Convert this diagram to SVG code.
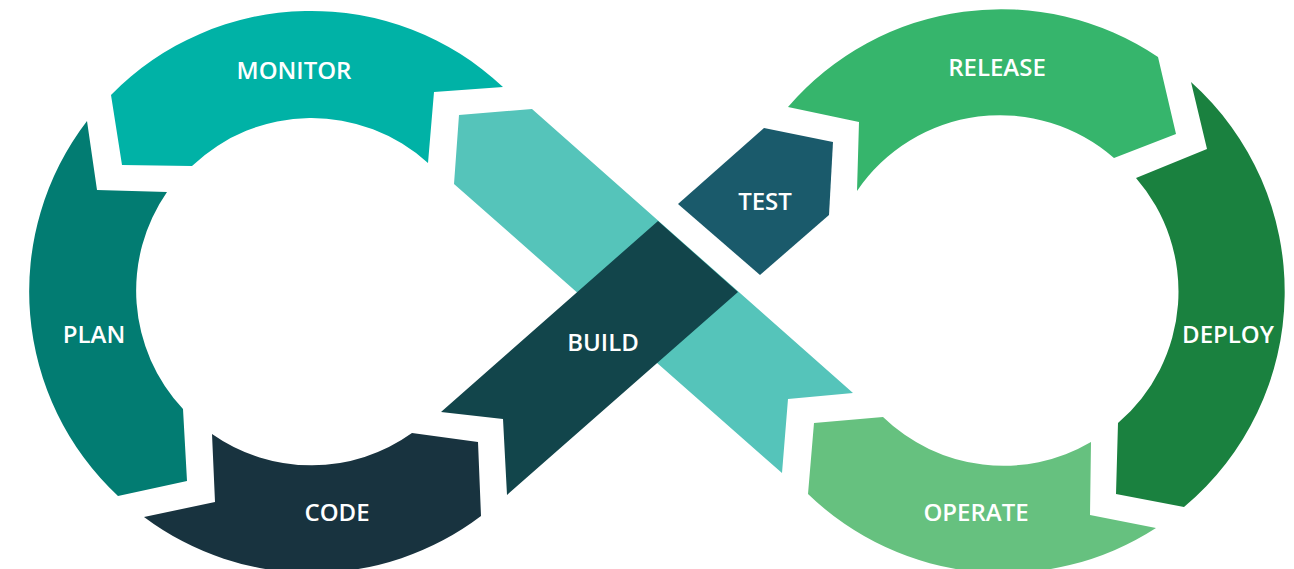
<svg xmlns="http://www.w3.org/2000/svg" width="1294" height="569" viewBox="0 0 1294 569">
<style>
.lbl{font-family:"Open Sans","Noto Sans","Liberation Sans",sans-serif;font-weight:600;font-size:24px;fill:#ffffff;text-anchor:middle}
</style>
<rect width="1294" height="569" fill="#ffffff"/>
<g id="band">
<polygon points="459,115 532,109 853,393 788,399 782,473 454,184" fill="#55C4BA"/>
</g>
<g id="monitor">
<path d="M111,95 A280,280 0 0 1 503,87 L434,92 L428,163 A173,173 0 0 0 192,166 L122,165 Z" fill="#00B2A6"/>
<text class="lbl" x="294" y="79">MONITOR</text>
</g>
<g id="plan">
<path d="M87,121 A280,280 0 0 0 118,496 L187,481 L183,409 A173,173 0 0 1 167,192 L97,190 Z" fill="#027C72"/>
<text class="lbl" x="94" y="343">PLAN</text>
</g>
<g id="code">
<path d="M144,517 A280,280 0 0 0 481,516 L478,442 L412,433 A173,173 0 0 1 212,434 L215,502 Z" fill="#18333F"/>
<text class="lbl" x="337" y="521">CODE</text>
</g>
<g id="build">
<polygon points="441,412 503,419 507,495 738,292 658,221" fill="#12454B"/>
<text class="lbl" x="603" y="351">BUILD</text>
</g>
<g id="test">
<polygon points="678,204 764,128 833,142 829,215 760,275" fill="#1A5A6B"/>
<text class="lbl" x="765" y="210">TEST</text>
</g>
<g id="release">
<path d="M788,107 L859,122 L857,191 A173,173 0 0 1 1114,158 L1176,134 L1158,57 A281,281 0 0 0 788,107 Z" fill="#36B56C"/>
<text class="lbl" x="997" y="76">RELEASE</text>
</g>
<g id="deploy">
<path d="M1191,82 A281,281 0 0 1 1184,507 L1116,494 L1118,423 A173,173 0 0 0 1136,178 L1207,149 Z" fill="#1A813F"/>
<text class="lbl" x="1228" y="343">DEPLOY</text>
</g>
<g id="operate">
<path d="M814,423 L883,417 A173,173 0 0 0 1091,442 L1090,515 L1156,528 A281,281 0 0 1 808,494 Z" fill="#66C17F"/>
<text class="lbl" x="976" y="521">OPERATE</text>
</g>
</svg>
